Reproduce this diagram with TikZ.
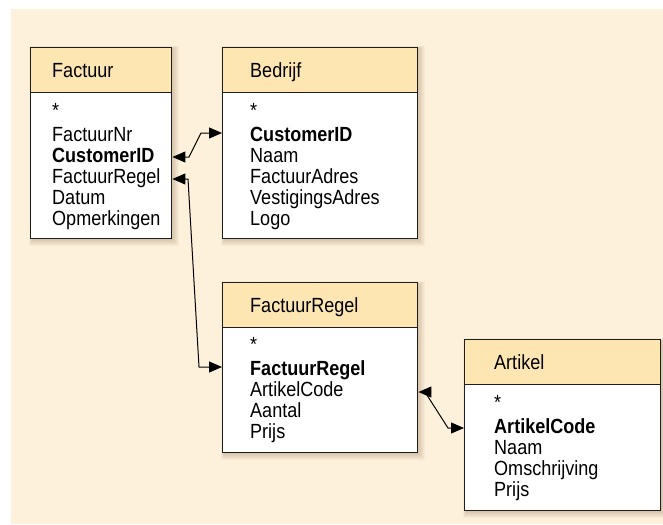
\documentclass[tikz,border=0pt]{standalone}
\usepackage{fontspec}
\setmainfont{Liberation Sans}[FakeStretch=0.88]
\usetikzlibrary{arrows.meta}
\definecolor{bgcream}{HTML}{FDF1DC}
\definecolor{hdrcol}{HTML}{FEE6B2}
\definecolor{edge}{HTML}{1E1E1E}
\tikzset{
  tbl/.style={draw=edge, line width=1.4pt, fill=white, inner sep=0pt, anchor=north west},
  hdr/.style={draw=edge, line width=1.4pt, fill=hdrcol, inner sep=0pt, anchor=north west},
  ttl/.style={anchor=base west, inner sep=0pt, font=\fontsize{20.5}{21}\selectfont},
  body/.style={anchor=base west, inner sep=0pt, align=left, font=\fontsize{20.5}{21}\selectfont},
  conn/.style={draw=black, line width=1pt, {Triangle[length=13pt,width=11pt]}-{Triangle[length=13pt,width=11pt]}}
}
\newcommand\boxshadow[4]{%
  \foreach \i in {1,...,8}{%
    \fill[brown!60!black,opacity=0.04] (#1+3-\i*0.5,#2+3-\i*0.5) rectangle (#3+\i,#4+\i);}}
\begin{document}
\begin{tikzpicture}[x=1pt,y=-1pt]
\useasboundingbox (0,0) rectangle (663,524);
\fill[bgcream] (11,9) rectangle (663,524);
% shadows
\boxshadow{30}{47}{171}{238}
\boxshadow{222}{47}{417}{238}
\boxshadow{222}{282}{417}{452}
\boxshadow{464}{339}{660}{510}
% Factuur
\node[tbl, minimum width=141pt, minimum height=191pt] (F) at (30,47) {};
\node[hdr, minimum width=141pt, minimum height=45pt] (Fh) at (F.north west) {};
\node[ttl] (Ft) at (52,78) {Factuur};
\node[body] (Fb) at (52,225) {*\\[3pt]FactuurNr\\\textbf{CustomerID}\\FactuurRegel\\Datum\\Opmerkingen};
% Bedrijf
\node[tbl, minimum width=195pt, minimum height=191pt] (B) at (222,47) {};
\node[hdr, minimum width=195pt, minimum height=45pt] (Bh) at (B.north west) {};
\node[ttl] (Bt) at (250,78) {Bedrijf};
\node[body] (Bb) at (250,225) {*\\[3pt]\textbf{CustomerID}\\Naam\\FactuurAdres\\VestigingsAdres\\Logo};
% FactuurRegel
\node[tbl, minimum width=195pt, minimum height=170pt] (R) at (222,282) {};
\node[hdr, minimum width=195pt, minimum height=45pt] (Rh) at (R.north west) {};
\node[ttl] (Rt) at (250,312) {FactuurRegel};
\node[body] (Rb) at (250,438) {*\\[3pt]\textbf{FactuurRegel}\\ArtikelCode\\Aantal\\Prijs};
% Artikel
\node[tbl, minimum width=196pt, minimum height=171pt] (A) at (464,339) {};
\node[hdr, minimum width=196pt, minimum height=45pt] (Ah) at (A.north west) {};
\node[ttl] (At) at (494,369) {Artikel};
\node[body] (Ab) at (494,496) {*\\[3pt]\textbf{ArtikelCode}\\Naam\\Omschrijving\\Prijs};
% connector end points
\coordinate (c1s) at (F.east |- {(0,157)});
\coordinate (c1e) at (B.west |- {(0,133)});
\coordinate (c2s) at (F.east |- {(0,179)});
\coordinate (c2e) at (R.west |- {(0,367)});
\coordinate (c3s) at (R.east |- {(0,392)});
\coordinate (c3e) at (A.west |- {(0,428)});
\draw[conn] (c1s) -- (189,157) -- (201,133) -- (c1e);
\draw[conn] (c2s) -- (188,179) -- (199,367) -- (c2e);
\draw[conn] (c3s) -- (425,392) -- (448,428) -- (c3e);
\end{tikzpicture}
\end{document}
